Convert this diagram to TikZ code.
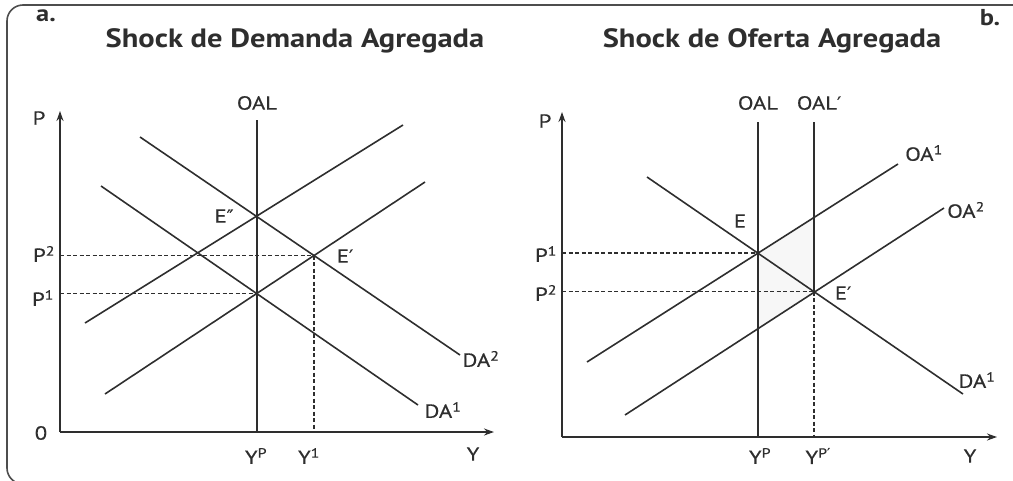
\documentclass[tikz,border=0pt]{standalone}
\usepackage{fontspec}
\setmainfont{PT Sans}
\newfontfamily\lblfont[FakeStretch=1.2, FakeBold=0.4]{PT Sans}
\newfontfamily\ttlfont[FakeStretch=1.15]{PT Sans}
\newfontfamily\symf[FakeBold=0.4]{DejaVu Sans}
\usetikzlibrary{arrows.meta}
\definecolor{ink}{HTML}{2E2E2E}
\newcommand{\prm}{{\symf\fontsize{18}{22}\selectfont ′}}
\newcommand{\dprm}{{\symf\fontsize{18}{22}\selectfont ″}}
\begin{document}
\begin{tikzpicture}[x=1pt,y=-1pt,
  curve/.style={draw=ink, line width=1.6pt},
  axis/.style={draw=ink, line width=1.8pt, -{Stealth[length=10pt,width=7pt]}},
  guide/.style={draw=ink, line width=1.5pt, dash pattern=on 4pt off 2.5pt},
  lbl/.style={text=ink, font=\lblfont\fontsize{19}{23}\selectfont, inner sep=0pt},
  tag/.style={text=ink, font=\ttlfont\fontsize{23}{26}\selectfont\bfseries, inner sep=0pt},
  ttl/.style={text=ink, font=\ttlfont\fontsize{26.5}{30}\selectfont\bfseries, inner sep=0pt},
  frame/.style={draw=ink!85, line width=1.6pt, rounded corners=16pt},
  shade/.style={fill=black!3, draw=none}]
\useasboundingbox (0,0) rectangle (1013,480);
\clip (0,0) rectangle (1013,480);
% frame
\draw[frame] (1030,5) -- (7,5) -- (7,484) -- (1030,484);
% ---------------- panel a ----------------
\node[tag] (a-tag) at (46,16) {a.};
\node[ttl] (a-title) at (295,41) {Shock de Demanda Agregada};
\coordinate (a-o) at (60,432);
\coordinate (a-ytip) at (60,111);
\coordinate (a-xtip) at (494,432);
\coordinate (a-oa1s) at (105,394); \coordinate (a-oa1e) at (425,182);
\coordinate (a-oa2s) at (85,323);  \coordinate (a-oa2e) at (403,125);
\coordinate (a-da1s) at (101,186); \coordinate (a-da1e) at (418,405);
\coordinate (a-da2s) at (140,137); \coordinate (a-da2e) at (460,355);
\coordinate (a-oaltop) at (257,120);
\coordinate (a-E) at (intersection of a-oa1s--a-oa1e and a-da1s--a-da1e);
\coordinate (a-E1) at (intersection of a-oa1s--a-oa1e and a-da2s--a-da2e);
\coordinate (a-E2) at (intersection of a-oa2s--a-oa2e and a-da2s--a-da2e);
\draw[guide] (a-E -| a-o) -- (a-E);
\draw[guide] (a-E1 -| a-o) -- (a-E1);
\draw[guide] (a-E1) -- (a-E1 |- a-o);
\draw[curve] (a-oa1s) -- (a-oa1e);
\draw[curve] (a-oa2s) -- (a-oa2e);
\draw[curve] (a-da1s) -- (a-da1e);
\draw[curve] (a-da2s) -- (a-da2e);
\draw[curve] (a-oaltop) -- (a-oaltop |- a-o);
\draw[axis] (a-o) -- (a-ytip);
\draw[axis] (a-o) -- (a-xtip);
\node[lbl] (a-P) at (39,118) {P};
\node[lbl] (a-0) at (41,433) {0};
\node[lbl] (a-Y) at (473,454) {Y};
\node[lbl] (a-OAL) at (257,103) {OAL};
\node[lbl] (a-Epp) at (224,216) {E\dprm};
\node[lbl] (a-Ep) at (345,256) {E\prm};
\node[lbl] (a-P2) at (44,254) {P\textsuperscript{2}};
\node[lbl] (a-P1) at (43,298) {P\textsuperscript{1}};
\node[lbl] (a-YP) at (256,456) {Y\textsuperscript{P}};
\node[lbl] (a-Y1) at (309,456) {Y\textsuperscript{1}};
\node[lbl] (a-DA2) at (481,359) {DA\textsuperscript{2}};
\node[lbl] (a-DA1) at (443,410) {DA\textsuperscript{1}};
% ---------------- panel b ----------------
\node[tag] (b-tag) at (990,18) {b.};
\node[ttl] (b-title) at (772,41) {Shock de Oferta Agregada};
\coordinate (b-o) at (562,437);
\coordinate (b-ytip) at (562,112);
\coordinate (b-xtip) at (997,437);
\coordinate (b-top) at (0,122);
\coordinate (b-oa1s) at (587,362); \coordinate (b-oa1e) at (898,164);
\coordinate (b-oa2s) at (625,415); \coordinate (b-oa2e) at (944,208);
\coordinate (b-da1s) at (647,177); \coordinate (b-da1e) at (963,394);
\coordinate (b-v2a) at (814,0); \coordinate (b-v2b) at (814,500);
\coordinate (b-E) at (intersection of b-oa1s--b-oa1e and b-da1s--b-da1e);
\coordinate (b-E1) at (intersection of b-v2a--b-v2b and b-da1s--b-da1e);
\path (b-E1 |- b-top) coordinate (b-oal2top);
\path (b-E |- b-top) coordinate (b-oaltop);
\coordinate (b-q1) at (intersection of b-oa1s--b-oa1e and b-oal2top--b-E1);
\coordinate (b-q2) at (intersection of b-oa2s--b-oa2e and b-oaltop--b-E);
\fill[shade] (b-E) -- (b-q1) -- (b-E1) -- (b-q2) -- cycle;
\draw[guide] (b-E -| b-o) -- (b-E);
\draw[guide] (b-E1 -| b-o) -- (b-E1);
\draw[guide] (b-E1) -- (b-E1 |- b-o);
\draw[curve] (b-oal2top) -- (b-E1);
\draw[curve] (b-oaltop) -- (b-oaltop |- b-o);
\draw[curve] (b-oa1s) -- (b-oa1e);
\draw[curve] (b-oa2s) -- (b-oa2e);
\draw[curve] (b-da1s) -- (b-da1e);
\draw[axis] (b-o) -- (b-ytip);
\draw[axis] (b-o) -- (b-xtip);
\node[lbl] (b-P) at (545,121) {P};
\node[lbl] (b-Y) at (970,456) {Y};
\node[lbl] (b-OAL) at (758,103) {OAL};
\node[lbl] (b-OAL2) at (819,103) {OAL\prm};
\node[lbl] (b-OA1) at (924,153) {OA\textsuperscript{1}};
\node[lbl] (b-OA2) at (966,210) {OA\textsuperscript{2}};
\node[lbl] (b-E-l) at (740,221) {E};
\node[lbl] (b-Ep) at (843,293) {E\prm};
\node[lbl] (b-DA1) at (977,380) {DA\textsuperscript{1}};
\node[lbl] (b-P1) at (546,254) {P\textsuperscript{1}};
\node[lbl] (b-P2) at (546,293) {P\textsuperscript{2}};
\node[lbl] (b-YP) at (760,456) {Y\textsuperscript{P}};
\node[lbl] (b-YPp) at (818,456) {Y\textsuperscript{P{\symf ′}}};
\end{tikzpicture}
\end{document}
